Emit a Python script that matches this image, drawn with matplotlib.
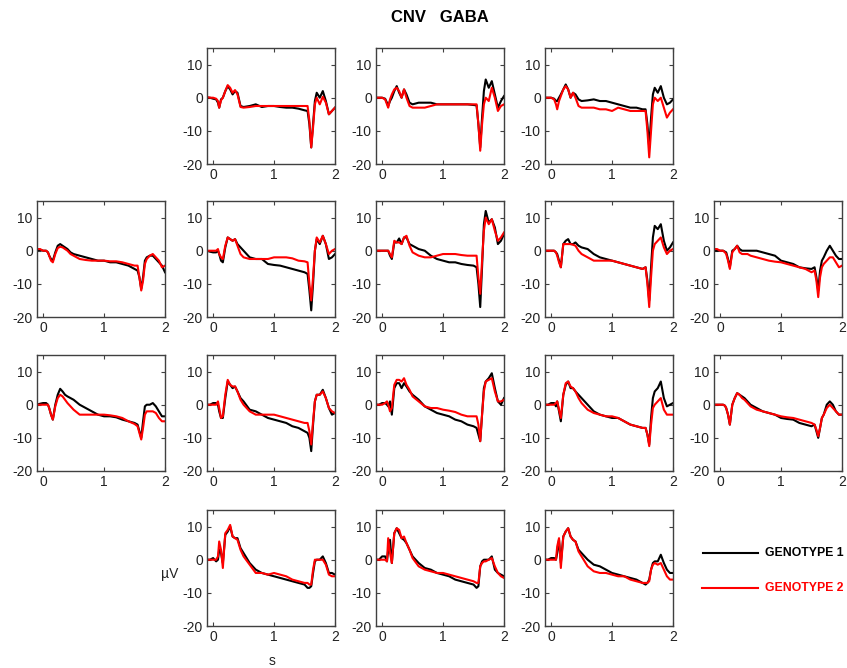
import numpy as np
import matplotlib.pyplot as plt
from matplotlib.lines import Line2D

plt.rcParams['font.family'] = ['Liberation Sans', 'DejaVu Sans']
plt.rcParams['axes.unicode_minus'] = False

# time axis (s), shared by every trace
t = [-0.1, -0.05, 0.0, 0.05, 0.08, 0.1, 0.13, 0.16, 0.2, 0.24, 0.28, 0.32, 0.36,
     0.4, 0.45, 0.5, 0.6, 0.7, 0.8, 0.9, 1.0, 1.1, 1.2, 1.3, 1.4, 1.5, 1.55,
     1.58, 1.61, 1.64, 1.67, 1.7, 1.75, 1.8, 1.85, 1.9, 1.95, 2.0]

# (row, col) of each panel in the 4x5 grid
panel_pos = [(0, 1), (0, 2), (0, 3),
             (1, 0), (1, 1), (1, 2), (1, 3), (1, 4),
             (2, 0), (2, 1), (2, 2), (2, 3), (2, 4),
             (3, 1), (3, 2), (3, 3)]

# genotype 1 (black), one list per panel, in panel order
geno1 = [
    [0, 0, -0.3, -0.5, -1.5, -3, -0.5, 0, 2, 3.5, 2.5, 1, 2, 1.5, -2.5, -2.8, -2.5, -2, -2.8, -2.5, -2.5, -2.8, -3, -3, -3.3, -3.8, -4, -8, -15, -8, -1, 1.5, 0, 2, -1, -5, -4, -3],
    [0, 0, 0, -0.3, -1.5, -2.5, -1, 0, 2, 3.5, 1.5, 0, 2.5, 1, -1.5, -2, -1.5, -1.5, -1.5, -2, -2, -2, -2, -2, -2, -2.2, -2.3, -8, -15, -6, 2, 5.5, 3, 5, 1, -3, -1, 0.5],
    [0, 0, 0, -0.3, -1, -1, 0, 1, 2.5, 4, 2.5, 0, 1.5, 1, -0.5, -1, -0.8, -0.5, -1, -1, -1.5, -2, -2.5, -3, -3, -3.5, -3.5, -8, -15, -6, 1, 3, 1.5, 3.5, 0, -2, -1.5, -0.5],
    [0, 0.3, 0, 0, -0.5, -1.5, -2.5, -3, -0.5, 1.5, 2, 1.5, 1, 0.5, -0.5, -1, -1.5, -2, -2.5, -3, -3, -3.5, -3.5, -4, -4.5, -5.5, -6, -8, -11.5, -8, -3, -2, -1.5, -1.5, -2.5, -3.5, -4.5, -6.5],
    [0, -0.3, -0.5, -0.5, 0, -1, -3, -3.5, 1, 4, 3.5, 3, 3.5, 2, 1, 0, -2, -2.5, -2.5, -4, -4.3, -4.5, -5, -5.5, -6, -6.5, -7, -12, -18, -10, 0, 3.5, 2, 4.5, 2, -2.5, -2, -1],
    [0, 0, 0, 0, 0, 0, -1.5, -2.5, 2.5, 2.5, 3.7, 2, 4, 4, 2, 1.5, 0.5, 0, -1.5, -2.5, -3, -3.5, -3.5, -4, -4.3, -4.5, -5, -10, -17, -5, 8, 12, 8.5, 9.5, 7, 2, 3, 5],
    [0, 0, 0, 0, -0.5, -1, -3, -5, 2, 3, 3.5, 2, 2, 2.5, 1.5, 1, 0.5, -1, -2, -2.5, -3, -3.5, -4, -4.5, -5, -5.5, -5, -9, -15, -5, 4, 7.5, 6.5, 8, 3, 0, 1, 2.5],
    [0, 0, 0, 0, -0.3, -0.5, -2.5, -5, 0, 0.5, 1.5, 0.5, 0, 0, 0, 0, 0, -0.5, -1, -1.5, -3, -3.5, -4, -5, -5.3, -5.5, -5, -8, -12, -6, -3, -2, 0, 1.5, 0, -1.5, -2.5, -2.5],
    [0, 0.3, 0.5, 0.5, 0, -1, -3, -4.5, 0, 3, 4.8, 4, 3, 2.5, 2, 1.5, 0, -1, -2, -3, -3.5, -3.5, -3.8, -4.5, -5, -5.5, -6, -8, -10, -5, -0.5, 0, 0, 0.5, -0.5, -2, -3.5, -3.5],
    [0, 0, 0.5, 0.5, 0, -2, -4, -4, 2, 7, 6, 5, 5.5, 4, 2, 1, -1.5, -2, -3, -4, -4.5, -5, -5.5, -6.5, -7, -8, -8.5, -10, -14, -6, 1, 3, 3, 4.5, 2, -1, -3, -2.5],
    [0, 0, 0.5, 0.5, 0, -0.5, 1, -3, 5, 6.5, 6.5, 5, 6.5, 5.5, 4, 3, 1.5, -0.5, -1.5, -2.5, -3, -3.5, -4.5, -5, -6, -6.5, -7, -9, -11, -3, 5, 7, 8, 9.5, 5, 1, 0, 2],
    [0, 0, 0.5, 0.5, -0.5, 1, -2, -5, 3, 6, 7, 5, 5, 4, 3, 2, 0, -2, -3, -3.5, -4, -4, -5, -6, -6.5, -7, -7, -9, -12, -4, 2, 4, 5, 7, 2, -0.5, 0, 0.5],
    [0, 0, 0, 0, -0.3, -1, -3, -6, 0, 2, 3.5, 3, 2.5, 2, 1, 0, -1, -2, -2.5, -3, -4, -4.3, -4.5, -5.5, -6, -6.5, -6, -8, -10, -7, -4, -3, 0, 1, 0, -2, -3, -3],
    [0, 0, 0.5, -0.5, 0, 3, 2, -1, 7.5, 8.5, 10, 7, 6.5, 6.5, 3.5, 2, -1, -3, -4, -4.5, -5, -5.5, -6, -6.5, -7, -7.5, -8.5, -8.5, -8, -4, -0.5, 0, 0, 1, -1, -4, -4, -4.5],
    [0, 0, 1, 1, -0.5, 3, 6, -1, 8, 9.5, 8, 6.5, 6, 5, 3, 1, -1, -2.5, -3, -4, -4.5, -5, -6, -6.5, -7, -7.5, -8.5, -8, -2, -0.5, 0, 0, 0, 1, -3, -4, -4.5, -5],
    [0, 0, 0.5, 0.5, 0, 2, 6, -1, 7, 8.5, 9.5, 7, 6, 5.5, 3, 2, 0, -1.5, -2, -3, -4, -4.5, -5, -5.5, -6, -7, -7.5, -7, -6, -3, -1, -0.5, -0.5, 1.5, -1, -3, -4, -4],
]

# genotype 2 (red)
geno2 = [
    [0.2, 0, 0, -0.3, -1, -3, -0.8, 0, 2, 3.8, 3, 1.5, 2.3, 1, -2.8, -3, -2.8, -2.5, -2.5, -2.5, -2.5, -2.5, -2.5, -2.5, -2.5, -2.5, -2.5, -7, -15, -9, -2, 0, -2, 0.3, -1.5, -5, -4, -3],
    [0, 0, 0, -0.5, -2, -3, -0.5, 1, 2.5, 3, 2, 0, 2.5, 0, -2.5, -3, -3, -3, -2.5, -2, -2, -2, -2, -2, -2, -2, -2, -8, -16, -8, -2, 0, -1, 3, 0, -4, -2.5, -2],
    [0, 0, 0, -0.5, -2, -3.5, -1, 0.5, 2.5, 3.5, 2.5, 0, 1.5, 0, -2.5, -3, -3, -3, -3.5, -3.5, -4, -3, -3.5, -4, -4, -4, -4, -10, -18, -10, -2, 0, -1, 0, -3, -6, -4.5, -3.5],
    [0.5, 0.5, 0, 0, -0.5, -1.5, -3, -3.5, -1, 0.8, 1.2, 1, 0.5, 0, -1, -1.5, -2.5, -2.8, -3, -3, -3, -3.2, -3.2, -3.5, -4, -4.5, -4.5, -8, -12, -9, -4, -2.5, -1.5, -1, -2, -3, -5, -4.5],
    [0, 0, 0, 0, 0.5, -1, -2, -2.5, 1.5, 4, 3.5, 3, 3.5, 1.5, -1, -2, -2.5, -2.5, -2.5, -2.5, -2, -2, -2, -2.3, -3, -3.2, -3.5, -10, -15, -8, 0, 4, 2.5, 4.5, 2, -1, 0, 0.5],
    [0, 0, 0, 0, 0, 0, -1, -2, 3, 2.5, 2.5, 2, 4, 4.5, 1.5, -0.5, -1.5, -2, -2, -1.5, -1, -1, -1, -1.3, -1.5, -1.5, -1.5, -8, -13, -3, 6, 10, 8, 9.5, 6, 3, 4, 5.5],
    [0, 0, 0, 0, -0.5, -1.5, -3.5, -5, 2, 2, 2, 2, 1.8, 1.5, 0, -1, -2, -3, -3, -3, -3, -3.5, -4, -4.5, -5, -5.5, -5, -10, -17, -8, 0, 2, 3, 4, 1, -1, 0, 0.5],
    [0.5, 0.5, 0, 0, -0.5, -1, -3, -5.5, -0.5, 0.5, 1.5, -0.5, -1, -1, -1, -1.5, -2, -2.5, -3, -3.3, -3.5, -4, -4.5, -5, -5.5, -6.5, -6, -9, -14, -8, -5, -4, -3, -2, -2, -3.5, -5, -4.5],
    [0, 0, 0, 0, 0, -1, -3, -4.5, -0.5, 2, 3, 2.5, 1.5, 0.5, -0.5, -1.5, -3, -3, -3, -3, -3, -3.2, -3.5, -4, -5, -5.8, -6.5, -8.5, -10.5, -7, -3, -2, -2, -2, -2.5, -4, -5, -5],
    [0, 0, 0, 0, 1, -1, -4, -3.5, 3, 7.5, 6, 5.5, 5.5, 4, 1.5, 0, -2, -3, -3, -3, -3, -3.5, -4, -4.5, -5, -5.5, -5.5, -8, -12, -5, 1, 3, 3, 4, 2, -1, -2, -2.5],
    [0, 0, 0, 0.5, 1, 0, -2, -1, 6, 7.5, 7.5, 7, 8, 6, 4.5, 2.5, 1, -0.5, -1, -1, -1.5, -1.8, -2.2, -3, -3.5, -3.5, -3.5, -6, -11, -3, 4, 7, 7.5, 8, 4, 1, 1, 1.5],
    [0, 0, 0, 0, 0.5, 1, -1.5, -4, 3, 6.5, 7, 5.5, 5, 4, 2, 0.5, -1.5, -2.5, -3, -3.5, -3.5, -4, -5, -6, -6.5, -7, -7, -9, -12.5, -6, -1, 0, 1, 2, -1.5, -3, -3, -3],
    [0, 0, 0, 0, -0.3, -1, -3, -6, 0, 2, 3.5, 3, 2, 1.5, 0.5, -0.5, -1.5, -2, -2.5, -3, -3.5, -3.8, -4, -4.5, -5, -5.5, -6, -7.5, -9.5, -7, -4, -3, -1, 0, -1, -2, -3, -3],
    [0, 0, 0, 0, 1, 5.5, 3, -2.5, 8, 9, 10.5, 7, 6.5, 6, 3, 1, -1.5, -4, -4, -4.5, -4, -4.5, -5, -6, -6.5, -7, -7, -7.5, -7.5, -3, 0, 0, 0, 0, -1.5, -4.5, -5, -5],
    [0, 0, 0, 0, -0.5, 6.5, 2, -1, 8, 9.5, 9, 6.5, 7, 5, 3, 0.5, -2, -3, -3.5, -4, -4, -4.5, -5, -5.5, -6, -6.5, -7, -7, -2, -1, -0.5, -0.5, 0, 0.5, -2, -4, -5, -5.5],
    [0, 0, 0, 0, 0, 4, 6.5, -2.5, 7, 8.5, 9.5, 7, 6, 5.5, 2.5, 1, -2, -3.5, -4, -4, -4.5, -5, -5, -6, -6.5, -7, -7, -7, -6.5, -3, -1.5, -1, -1.5, -1, -3, -5, -6, -6],
]

W, H = 847, 668
fig = plt.figure(figsize=(W / 100, H / 100), dpi=100)

col_left = [37, 207, 376, 545, 714]
row_top = [48, 201, 355, 510]
ax_w, ax_h = 128, 116
frame_col = '#404040'

for (r, c), y1, y2 in zip(panel_pos, geno1, geno2):
    ax = fig.add_axes([col_left[c] / W, 1 - (row_top[r] + ax_h) / H, ax_w / W, ax_h / H])
    ax.plot(t, y1, color='black', lw=1.5)
    ax.plot(t, y2, color='red', lw=1.5)
    ax.set_xlim(-0.1, 2)
    ax.set_ylim(-20, 15)
    ax.set_xticks([0, 1, 2])
    ax.set_yticks([-20, -10, 0, 10])
    ax.tick_params(direction='in', top=True, right=True, length=3, width=0.8,
                   labelsize=10, colors=frame_col, labelcolor='#222222', pad=3)
    for sp in ax.spines.values():
        sp.set_color(frame_col)
        sp.set_linewidth(1.0)

fig.text(440 / W, 1 - 18 / H, 'CNV   GABA', ha='center', va='center',
         fontsize=12, fontweight='bold')
fig.text(170 / W, 1 - 574 / H, '\u00b5V', ha='center', va='center', fontsize=10, color='#222222')
fig.text(272 / W, 1 - 661 / H, 's', ha='center', va='center', fontsize=10, color='#222222')

# legend drawn by hand at the right of the last row
fig.add_artist(Line2D([703 / W, 758 / W], [1 - 553 / H, 1 - 553 / H], color='black', lw=1.5))
fig.add_artist(Line2D([702 / W, 758 / W], [1 - 588 / H, 1 - 588 / H], color='red', lw=1.5))
fig.text(765 / W, 1 - 553 / H, 'GENOTYPE 1', ha='left', va='center', fontsize=8.8,
         fontweight='bold', color='black')
fig.text(765 / W, 1 - 588 / H, 'GENOTYPE 2', ha='left', va='center', fontsize=8.8,
         fontweight='bold', color='red')

fig.savefig('out.png', dpi=100)
